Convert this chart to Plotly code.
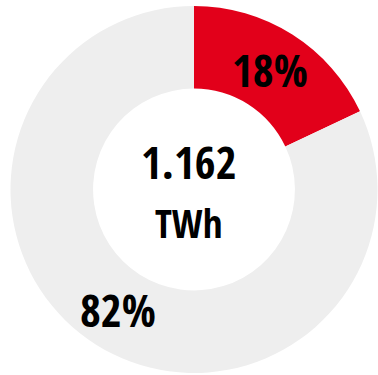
import math
import plotly.graph_objects as go

# Share of total electricity (percent) and the total it refers to
labels = ["Anteil", "Rest"]
shares = [18, 82]
slice_colors = ["#E2001A", "#EEEEEE"]
total_value = "1.162"
total_unit = "TWh"

HOLE = 0.55
DOM_X = [10 / 378, 1.0]
DOM_Y = [2 / 375, 369 / 375]
W, H = 378, 375
FONT = "Open Sans Condensed, Roboto Condensed, DejaVu Sans Condensed, sans-serif"

fig = go.Figure(
    go.Pie(
        labels=labels,
        values=shares,
        hole=HOLE,
        sort=False,
        direction="clockwise",
        rotation=0,
        marker=dict(colors=slice_colors, line=dict(width=0)),
        textinfo="none",
        domain=dict(x=DOM_X, y=DOM_Y),
        showlegend=False,
        hoverinfo="skip",
    )
)

# centre and mid-ring radius of the donut in paper units
cx = (DOM_X[0] + DOM_X[1]) / 2
cy = (DOM_Y[0] + DOM_Y[1]) / 2
radius_px = min((DOM_X[1] - DOM_X[0]) * W, (DOM_Y[1] - DOM_Y[0]) * H) / 2
mid_px = radius_px * (1 + HOLE) / 2

# percentage labels at the middle of each slice
total = sum(shares)
start = 0.0
for share in shares:
    mid_angle = math.radians((start + share / 2) / total * 360)
    start += share
    fig.add_annotation(
        x=cx + mid_px * math.sin(mid_angle) / W,
        y=cy + mid_px * math.cos(mid_angle) / H,
        xref="paper",
        yref="paper",
        xanchor="center",
        yanchor="middle",
        text=f"{share}%",
        showarrow=False,
        font=dict(family=FONT, size=45, color="#000000", weight="bold"),
    )

# total in the hole
fig.add_annotation(
    x=cx,
    y=cy,
    xref="paper",
    yref="paper",
    xanchor="center",
    yanchor="middle",
    xshift=-6,
    text=f"{total_value}<br><span style='font-size:39px'>{total_unit}</span>",
    showarrow=False,
    font=dict(family=FONT, size=45, color="#000000", weight="bold"),
    align="center",
)

fig.update_layout(
    width=W,
    height=H,
    margin=dict(l=0, r=0, t=0, b=0),
    paper_bgcolor="#FFFFFF",
    plot_bgcolor="#FFFFFF",
)

fig.write_html("out.html", config={"displayModeBar": False})
